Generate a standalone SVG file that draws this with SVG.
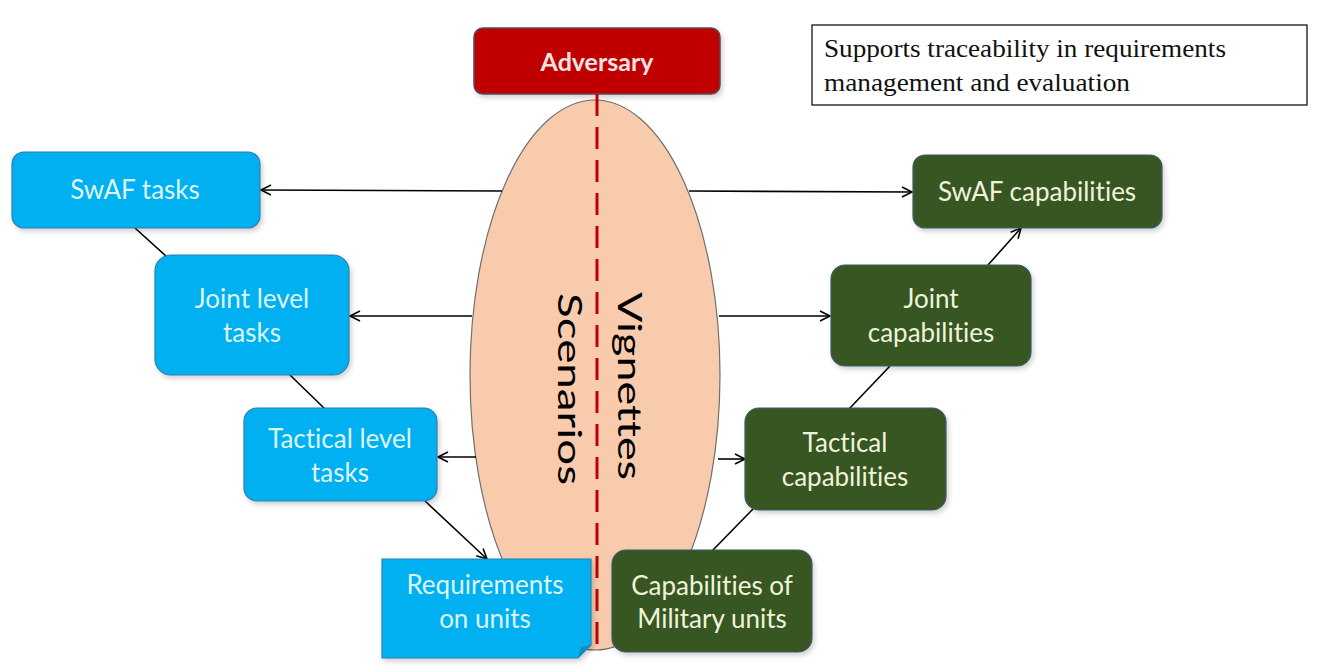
<svg xmlns="http://www.w3.org/2000/svg" width="1320" height="667" viewBox="0 0 1320 667">
  <defs>
    <marker id="arr" markerUnits="userSpaceOnUse" markerWidth="14" markerHeight="14" refX="11" refY="6" orient="auto">
      <path d="M1,1 L11,6 L1,11" fill="none" stroke="#000" stroke-width="1.6"/>
    </marker>
    <filter id="sh" x="-10%" y="-10%" width="130%" height="140%">
      <feDropShadow dx="2" dy="3" stdDeviation="2.5" flood-color="#000" flood-opacity="0.18"/>
    </filter>
  </defs>
  <style>
    text { font-variant-ligatures: none; }
    .blue { fill: #00B0F0; stroke: #2D7FB0; stroke-width: 1.2; }
    .green { fill: #385723; stroke: #3F5A6A; stroke-width: 1.2; }
    .t { font-family: Lato, "Open Sans", sans-serif; font-size: 26px; text-anchor: middle; }
    .tb { fill: #DDF6FF; }
    .tg { fill: #EEF3DC; }
    .conn line { stroke: #000; stroke-width: 1.6; }
    .rot { font-family: Lato, "Open Sans", sans-serif; font-size: 33px; text-anchor: middle; fill: #000; }
    .note { font-family: "Liberation Serif", serif; font-size: 26px; fill: #111; }
  </style>
  <rect width="1320" height="667" fill="#fff"/>

  <g id="note">
    <rect x="812" y="25" width="495" height="80" fill="#fff" stroke="#000" stroke-width="1.2"/>
    <text class="note" x="824" y="57" textLength="402" lengthAdjust="spacingAndGlyphs">Supports traceability in requirements</text>
    <text class="note" x="824" y="91" textLength="306" lengthAdjust="spacingAndGlyphs">management and evaluation</text>
  </g>

  <g id="scenarios">
    <ellipse cx="595" cy="375" rx="125" ry="275" fill="#F8CBAD" stroke="#6F6F6F" stroke-width="1.2"/>
  </g>

  <g id="adversary">
    <rect x="474" y="28" width="246" height="66" rx="9" fill="#C00000" stroke="#5A4A55" stroke-width="1.5" filter="url(#sh)"/>
    <text x="597" y="71" font-family="Lato, 'Open Sans', sans-serif" font-size="25" font-weight="bold" text-anchor="middle" fill="#F7E3E0">Adversary</text>
  </g>

  <g id="divider">
    <line x1="597" y1="94" x2="597" y2="650" stroke="#C00000" stroke-width="3" stroke-dasharray="22 11"/>
  </g>

  <g id="vignettes-label">
    <text class="rot" transform="translate(618,386) rotate(90)" textLength="188" lengthAdjust="spacingAndGlyphs">Vignettes</text>
    <text class="rot" transform="translate(558,389) rotate(90)" textLength="192" lengthAdjust="spacingAndGlyphs">Scenarios</text>
  </g>

  <g class="conn" id="connectors">
    <line x1="502" y1="191" x2="261" y2="190" marker-end="url(#arr)"/>
    <line x1="472" y1="316" x2="350" y2="316" marker-end="url(#arr)"/>
    <line x1="476" y1="457" x2="438" y2="457" marker-end="url(#arr)"/>
    <line x1="425" y1="501" x2="487" y2="559" marker-end="url(#arr)"/>
    <line x1="135" y1="228" x2="167" y2="257"/>
    <line x1="290" y1="375" x2="325" y2="409"/>
    <line x1="689" y1="191" x2="912" y2="192" marker-end="url(#arr)"/>
    <line x1="719" y1="316" x2="830" y2="316" marker-end="url(#arr)"/>
    <line x1="718" y1="459" x2="745" y2="459" marker-end="url(#arr)"/>
    <line x1="988" y1="265" x2="1021" y2="228" marker-end="url(#arr)"/>
    <line x1="849" y1="409" x2="890" y2="366"/>
    <line x1="712" y1="551" x2="753" y2="509"/>
  </g>

  <g id="swaf-tasks">
    <rect class="blue" x="12" y="152" width="248" height="76" rx="12" filter="url(#sh)"/>
    <text class="t tb" x="135" y="199">SwAF tasks</text>
  </g>
  <g id="joint-tasks">
    <rect class="blue" x="155" y="255" width="194" height="120" rx="16" filter="url(#sh)"/>
    <text class="t tb" x="252" y="308">Joint level</text>
    <text class="t tb" x="252" y="342">tasks</text>
  </g>
  <g id="tactical-tasks">
    <rect class="blue" x="244" y="408" width="193" height="93" rx="13" filter="url(#sh)"/>
    <text class="t tb" x="340" y="448">Tactical level</text>
    <text class="t tb" x="340" y="482">tasks</text>
  </g>
  <g id="requirements">
    <path class="blue" d="M382,559 H591 V645 L578,658 H382 Z" filter="url(#sh)"/>
    <path d="M591,645 L578,658 L581,647 Z" fill="#0A8CC0"/>
    <text class="t tb" x="485" y="594">Requirements</text>
    <text class="t tb" x="485" y="628">on units</text>
  </g>

  <g id="swaf-cap">
    <rect class="green" x="913" y="155" width="249" height="73" rx="12" filter="url(#sh)"/>
    <text class="t tg" x="1037" y="201">SwAF capabilities</text>
  </g>
  <g id="joint-cap">
    <rect class="green" x="831" y="265" width="200" height="101" rx="14" filter="url(#sh)"/>
    <text class="t tg" x="931" y="308">Joint</text>
    <text class="t tg" x="931" y="342">capabilities</text>
  </g>
  <g id="tactical-cap">
    <rect class="green" x="745" y="408" width="201" height="102" rx="14" filter="url(#sh)"/>
    <text class="t tg" x="845" y="452">Tactical</text>
    <text class="t tg" x="845" y="486">capabilities</text>
  </g>
  <g id="military-units">
    <rect class="green" x="612" y="550" width="200" height="102" rx="14" filter="url(#sh)"/>
    <text class="t tg" x="712" y="595">Capabilities of</text>
    <text class="t tg" x="712" y="628">Military units</text>
  </g>
</svg>
